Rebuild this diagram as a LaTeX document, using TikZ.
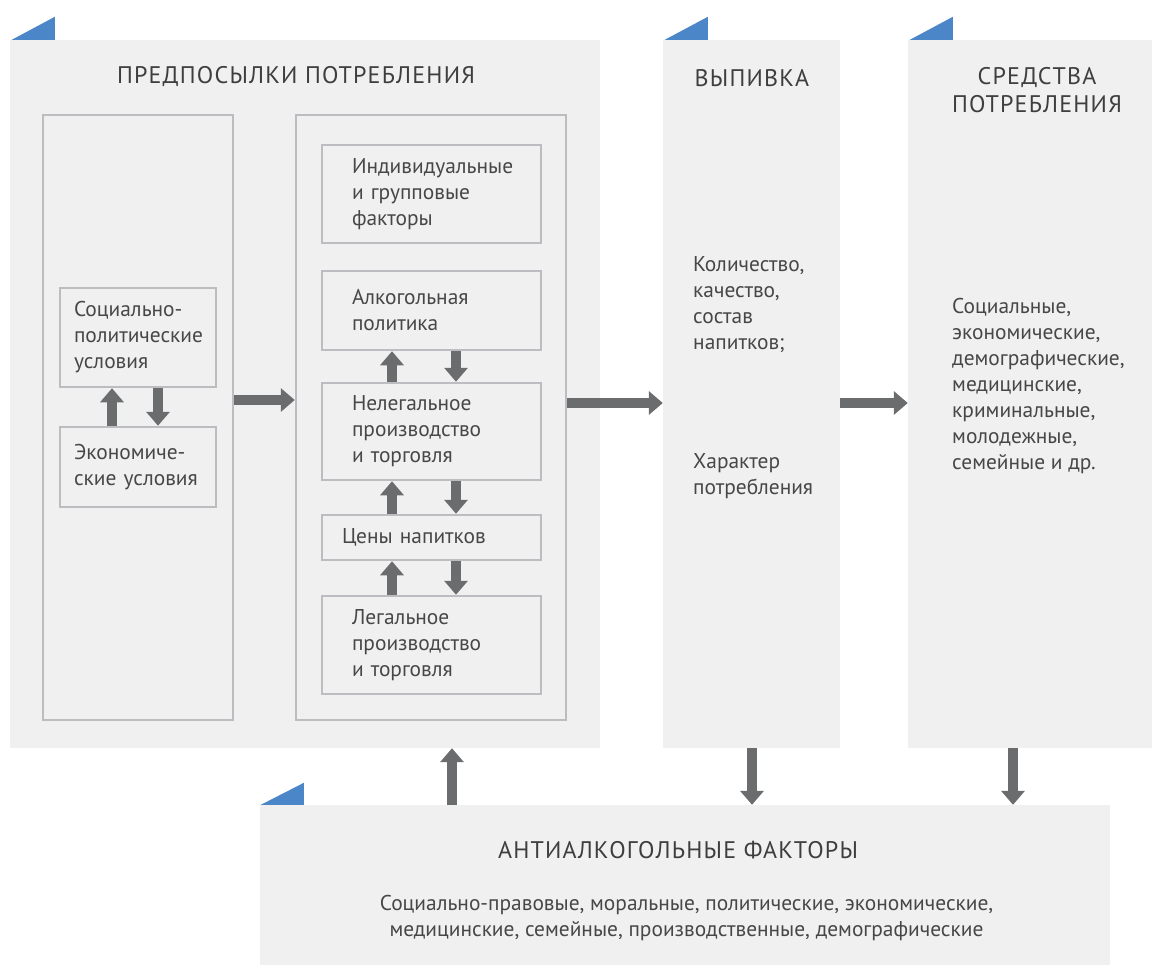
\documentclass[tikz,border=0pt]{standalone}
\usepackage{fontspec}
\setmainfont{PT Sans}
\newfontfamily\titlefont[LetterSpace=5]{PT Sans}
\usetikzlibrary{arrows.meta}
\definecolor{panel}{HTML}{F0F0F0}
\definecolor{edge}{HTML}{BDBDC1}
\definecolor{arr}{HTML}{6B6C6E}
\definecolor{txt}{HTML}{474747}
\definecolor{ttl}{HTML}{3E3E3E}
\definecolor{accent}{HTML}{4A86C8}
\begin{document}
\begin{tikzpicture}[x=1pt,y=-1pt,
  panelbox/.style={fill=panel, draw=none, inner sep=0pt},
  innerbox/.style={draw=edge, line width=2.5pt, inner sep=0pt},
  smallbox/.style={draw=edge, line width=2.5pt, inner xsep=30pt, inner ysep=0pt, text width=#1, align=left,
     font=\fontsize{21.4}{26}\selectfont, text=txt},
  bigarrow/.style={draw=arr, line width=10pt, -{Triangle[length=14pt,width=23pt]}},
  title/.style={font=\titlefont\fontsize{24}{27.5}\selectfont, text=ttl, align=center, inner sep=0pt},
  body/.style={font=\fontsize{21.4}{26}\selectfont, text=txt, align=left, inner sep=0pt, anchor=west},
  bodyc/.style={font=\fontsize{21.4}{26}\selectfont, text=txt, align=center, inner sep=0pt},
  flag/.style={fill=accent}
]
\useasboundingbox (0,0) rectangle (1153,967);
% panels
\node[panelbox, minimum width=590pt, minimum height=708pt] (p1) at (305,394) {};
\node[panelbox, minimum width=177pt, minimum height=708pt] (p2) at (751.5,394) {};
\node[panelbox, minimum width=244pt, minimum height=708pt] (p3) at (1030,394) {};
\node[panelbox, minimum width=850pt, minimum height=160pt] (p4) at (685,885) {};
% flags
\fill[flag] ([xshift=2pt]p1.north west) -- ++(43,0) -- ++(0,-23) -- cycle;
\fill[flag] ([xshift=2pt]p2.north west) -- ++(43,0) -- ++(0,-23) -- cycle;
\fill[flag] ([xshift=2pt]p3.north west) -- ++(43,0) -- ++(0,-23) -- cycle;
\fill[flag] ([xshift=1pt]p4.north west) -- ++(43,0) -- ++(0,-22) -- cycle;
% titles
\node[title] (t1) at (296,76) {ПРЕДПОСЫЛКИ ПОТРЕБЛЕНИЯ};
\node[title] (t2) at (752,78) {ВЫПИВКА};
\node[title] (t3) at (1037,90) {СРЕДСТВА\\ПОТРЕБЛЕНИЯ};
\node[title] (t4) at (678,850) {АНТИАЛКОГОЛЬНЫЕ ФАКТОРЫ};
% inner frames
\node[innerbox, minimum width=190pt, minimum height=605pt] (lbox) at (138,417.5) {};
\node[innerbox, minimum width=270pt, minimum height=605pt] (rbox) at (431,417.5) {};
% left boxes
\node[smallbox=128pt, inner xsep=14pt, minimum height=99pt] (soc) at (138,337.5) {Социально-\\политические\\условия};
\node[smallbox=128pt, inner xsep=14pt, minimum height=80pt] (econ) at (138,467) {Экономиче-\\ские условия};
% right boxes
\node[smallbox=159pt, minimum height=98pt] (indiv) at (431.5,194) {Индивидуальные\\и групповые\\факторы};
\node[smallbox=159pt, minimum height=79pt] (alc) at (431.5,310.5) {Алкогольная\\политика};
\node[smallbox=159pt, minimum height=97pt] (illeg) at (431.5,431.5) {Нелегальное\\производство\\и торговля};
\node[smallbox=179pt, inner xsep=20pt, minimum height=45pt] (price) at (431.5,537.5) {Цены напитков};
\node[smallbox=159pt, minimum height=98pt] (legal) at (431.5,645) {Легальное\\производство\\и торговля};
% panel texts
\node[body] (q1) at (693,305) {Количество,\\качество,\\состав\\напитков;};
\node[body] (q2) at (693,476) {Характер\\потребления};
\node[body] (q3) at (952,386) {Социальные,\\экономические,\\демографические,\\медицинские,\\криминальные,\\молодежные,\\семейные и др.};
\node[bodyc] (q4) at (686.5,918) {Социально-правовые, моральные, политические, экономические,\\медицинские, семейные, производственные, демографические};
% arrows left
\draw[bigarrow] ([xshift=-26pt]econ.north) -- ([xshift=-26pt]soc.south);
\draw[bigarrow] ([xshift=20pt]soc.south) -- ([xshift=20pt]econ.north);
% arrows right column
\draw[bigarrow] ([xshift=-39.5pt]illeg.north) -- ([xshift=-39.5pt]alc.south);
\draw[bigarrow] ([xshift=24.5pt]alc.south) -- ([xshift=24.5pt]illeg.north);
\draw[bigarrow] ([xshift=-39.5pt]price.north) -- ([xshift=-39.5pt]illeg.south);
\draw[bigarrow] ([xshift=24.5pt]illeg.south) -- ([xshift=24.5pt]price.north);
\draw[bigarrow] ([xshift=-39.5pt]legal.north) -- ([xshift=-39.5pt]price.south);
\draw[bigarrow] ([xshift=24.5pt]price.south) -- ([xshift=24.5pt]legal.north);
% horizontal arrows
\draw[bigarrow] (lbox.east |- 0,400) -- (rbox.west |- 0,400);
\draw[bigarrow] (rbox.east |- 0,403) -- (p2.west |- 0,403);
\draw[bigarrow] (p2.east |- 0,403) -- (p3.west |- 0,403);
% bottom arrows
\draw[bigarrow] (p4.north -| 452,0) -- (p1.south -| 452,0);
\draw[bigarrow] (p2.south -| 752,0) -- (p4.north -| 752,0);
\draw[bigarrow] (p3.south -| 1013,0) -- (p4.north -| 1013,0);
\end{tikzpicture}
\end{document}
